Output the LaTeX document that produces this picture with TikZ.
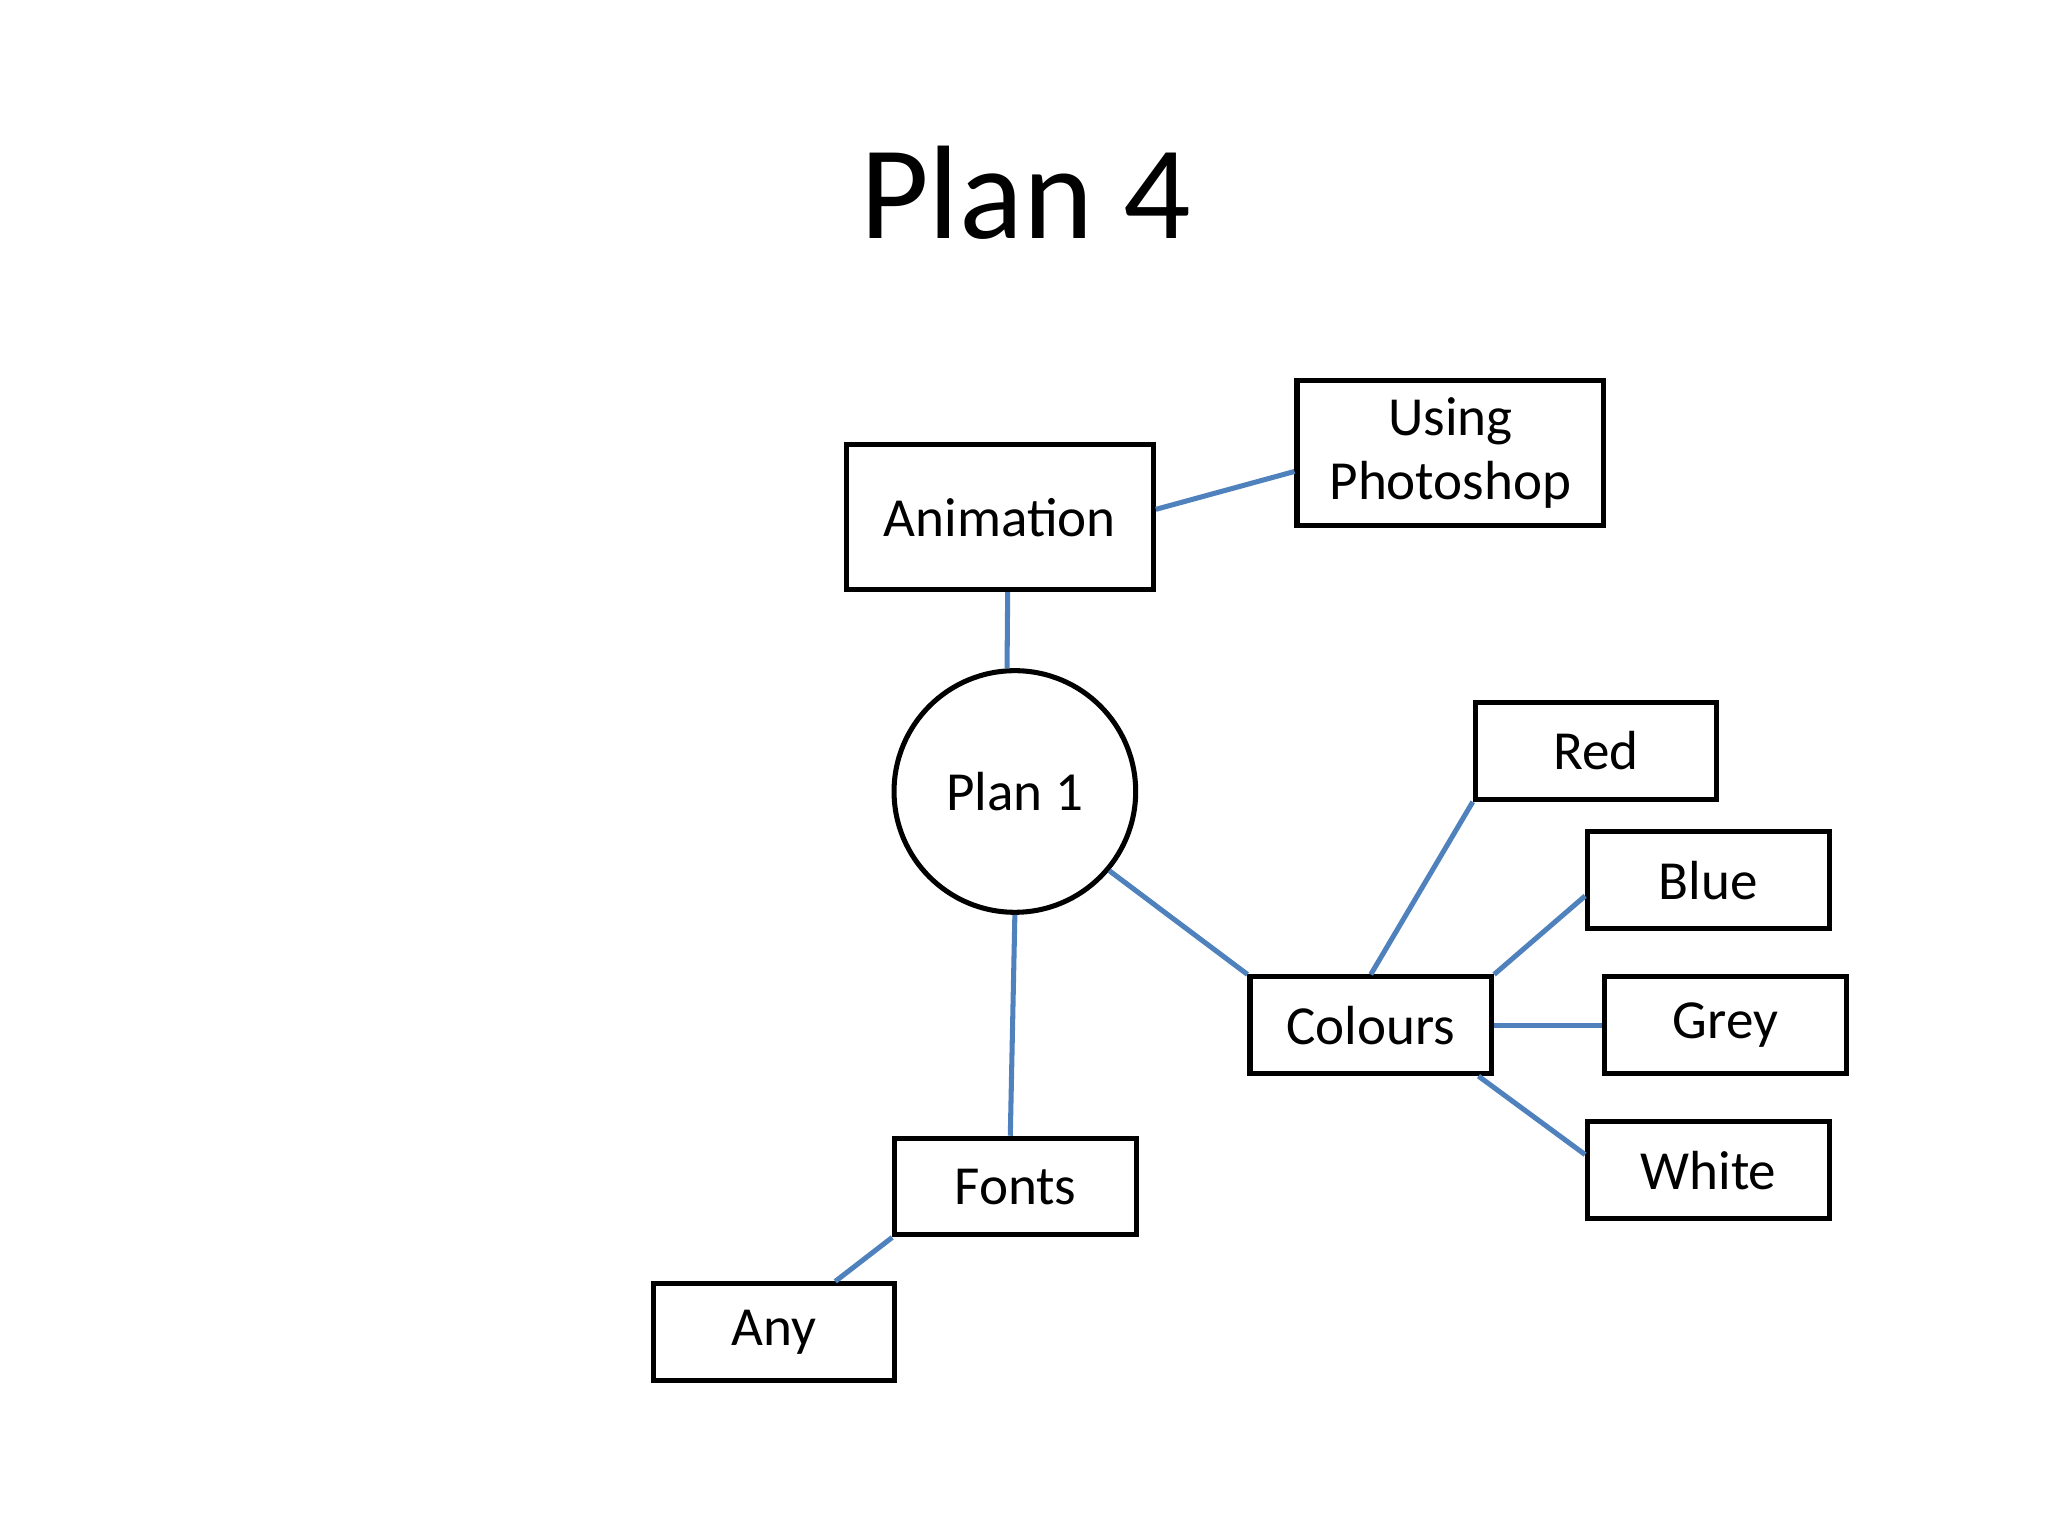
\documentclass[tikz,border=0pt]{standalone}
\usepackage{fontspec}
\setmainfont{Carlito}
\usetikzlibrary{positioning}
\definecolor{lnblue}{RGB}{79,129,189}
\tikzset{%
  ln/.style={draw=lnblue, line width=1.1pt},
  bx/.style={draw, line width=1.1pt, rectangle, minimum width=1.85cm, minimum height=0.74cm, font=\fontsize{12}{14}\selectfont},
  big/.style={bx, minimum width=2.35cm, minimum height=1.11cm, align=center},
  ci/.style={draw, line width=1.1pt, circle, minimum size=1.85cm, font=\fontsize{12}{14}\selectfont}
}
\begin{document}
\begin{tikzpicture}
        \useasboundingbox (0,0) rectangle (15.68,11.76);
        \node (title) at (7.85,10.28) {\fontsize{29}{34}\selectfont Plan 4};
        \node[big] (ani)  at (7.655,7.8)  {Animation};
        \node[big] (ps)   at (11.105,8.29) {Using\\Photoshop};
        \node[ci]  (p1)   at (7.77,5.70)  {Plan 1};
        \node[bx]  (col)  at (10.495,3.91) {Colours};
        \node[bx]  (red)  at (12.22,6.01) {Red};
        \node[bx]  (blue) at (13.08,5.02) {Blue};
        \node[bx]  (grey) at (13.21,3.91) {Grey};
        \node[bx]  (wh)   at (13.08,2.80) {White};
        \node[bx]  (fnt)  at (7.775,2.675) {Fonts};
        \node[bx]  (any)  at (5.925,1.56) {Any};
        \path[ln]
        ([yshift=0.06cm]ani.east) edge ([yshift=-0.14cm]ps.west)
        ([xshift=0.06cm]ani.south) edge ([xshift=-0.06cm]p1.north)
        (p1.-40) edge (col.north west)
        (p1.south) edge ([xshift=-0.04cm]fnt.north)
        (fnt.south west) edge ([xshift=0.47cm]any.north)
        (col.north) edge (red.south west)
        (col.north east) edge ([yshift=-0.12cm]blue.west)
        (col.east) edge (grey.west)
        ([xshift=-0.12cm]col.south east) edge ([yshift=0.12cm]wh.west);
\end{tikzpicture}
\end{document}
